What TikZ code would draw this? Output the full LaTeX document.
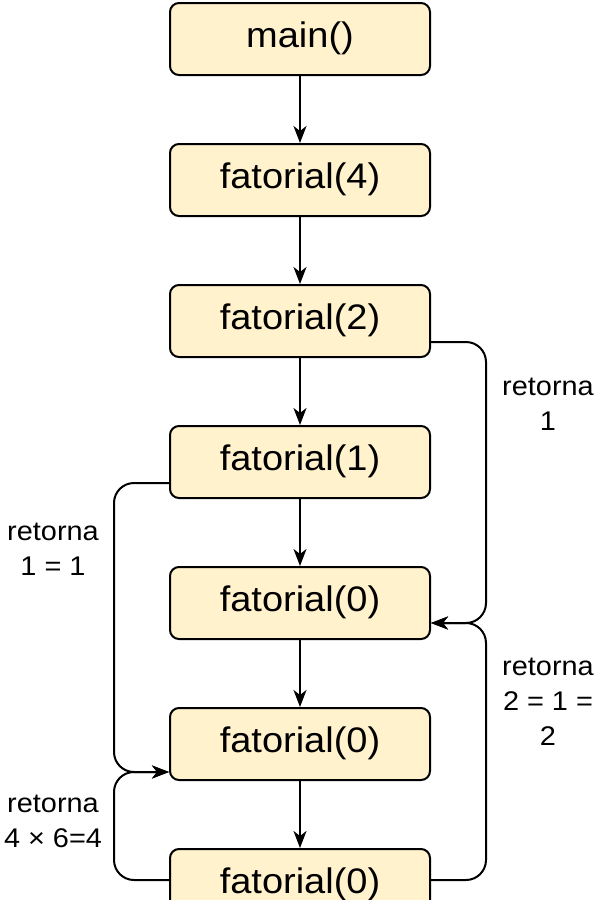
\documentclass[tikz,border=0pt]{standalone}
\usepackage{fontspec}
\setmainfont{Liberation Sans}
\usetikzlibrary{arrows.meta}
\definecolor{boxfill}{HTML}{FFF2CC}
\newcommand{\wtext}[1]{\scalebox{1.07}[1]{\begin{tabular}{@{}c@{}}#1\end{tabular}}}
\newcommand{\btext}[1]{\raisebox{-3pt}{\wtext{#1}}}
\begin{document}
\begin{tikzpicture}[x=1pt,y=-1pt,
  fbox/.style={draw=black, fill=boxfill, line width=2pt, rounded corners=9pt,
    minimum width=260pt, minimum height=72pt, inner sep=0pt,
    font=\fontsize{35.5}{40}\selectfont},
  conn/.style={line width=2pt, -{Stealth[length=17pt,width=13pt,inset=5pt]}},
  link/.style={line width=2pt, rounded corners=20pt, -{Stealth[length=17pt,width=13pt,inset=5pt]}},
  lbl/.style={align=center, font=\fontsize{27}{35}\selectfont, inner sep=0pt}]
\useasboundingbox (0,0) rectangle (600,900);
\node[fbox] (b1) at (300,39) {\btext{main()}};
\node[fbox] (b2) at (300,180) {\btext{fatorial(4)}};
\node[fbox] (b3) at (300,321) {\btext{fatorial(2)}};
\node[fbox] (b4) at (300,462) {\btext{fatorial(1)}};
\node[fbox] (b5) at (300,603) {\btext{fatorial(0)}};
\node[fbox] (b6) at (300,744) {\btext{fatorial(0)}};
\node[fbox] (b7) at (300,885) {\btext{fatorial(0)}};
\draw[conn] (b1) -- (b2);
\draw[conn] (b2) -- (b3);
\draw[conn] (b3) -- (b4);
\draw[conn] (b4) -- (b5);
\draw[conn] (b5) -- (b6);
\draw[conn] (b6) -- (b7);
\coordinate (r5) at ([yshift=-20pt]b5.east);
\coordinate (l6) at ([yshift=-28pt]b6.west);
\draw[link] ([yshift=-21pt]b3.east) -- ++(55,0) |- (r5);
\draw[link] ([yshift=5pt]b7.east) -- ++(55,0) |- (r5);
\draw[link] ([yshift=-21pt]b4.west) -- ++(-55,0) |- (l6);
\draw[link] ([yshift=5pt]b7.west) -- ++(-55,0) |- (l6);
\node[lbl] (t1) at (548,406) {\wtext{retorna\\1}};
\node[lbl] (t2) at (53,551) {\wtext{retorna\\1 = 1}};
\node[lbl] (t3) at (548,703) {\wtext{retorna\\2 = 1 =\\2}};
\node[lbl] (t4) at (53,823) {\wtext{retorna\\4 × 6=4}};
\end{tikzpicture}
\end{document}
